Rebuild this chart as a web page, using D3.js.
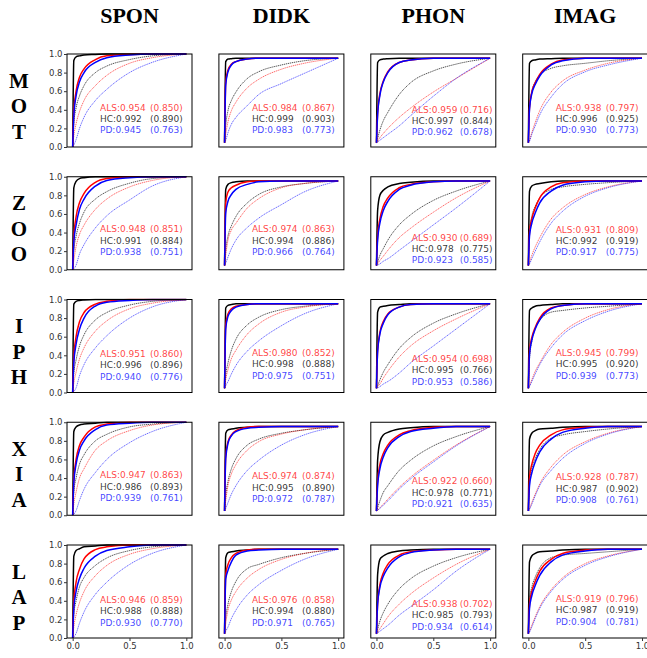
<!DOCTYPE html>
<html><head><meta charset="utf-8">
<script src="https://cdn.jsdelivr.net/npm/d3@7"></script>
<style>body{margin:0;background:#fff}</style></head>
<body>
<svg id="c" width="647" height="658"></svg>
<script>
const rowNames = ["MOT","ZOO","IPH","XIA","LAP"];
const colNames = ["SPON","DIDK","PHON","IMAG"];
const fpr = [0,0.01,0.03,0.06,0.1,0.2,0.3,0.5,0.7,1];
const yTicks = [0,0.2,0.4,0.6,0.8,1.0];
const xTicks = [0,0.5,1.0];

const aucALS = [[0.954,0.984,0.959,0.938],[0.948,0.974,0.930,0.931],[0.951,0.980,0.954,0.945],[0.947,0.974,0.922,0.928],[0.946,0.976,0.938,0.919]];
const aucHC  = [[0.992,0.999,0.997,0.996],[0.991,0.994,0.978,0.992],[0.996,0.998,0.995,0.995],[0.986,0.995,0.978,0.987],[0.988,0.994,0.985,0.987]];
const aucPD  = [[0.945,0.983,0.962,0.930],[0.938,0.966,0.923,0.917],[0.940,0.975,0.953,0.939],[0.939,0.972,0.921,0.908],[0.930,0.971,0.934,0.904]];
const altALS = [[0.850,0.867,0.716,0.797],[0.851,0.863,0.689,0.809],[0.860,0.852,0.698,0.799],[0.863,0.874,0.660,0.787],[0.859,0.858,0.702,0.796]];
const altHC  = [[0.890,0.903,0.844,0.925],[0.884,0.886,0.775,0.919],[0.896,0.888,0.766,0.920],[0.893,0.890,0.771,0.902],[0.888,0.880,0.793,0.919]];
const altPD  = [[0.763,0.773,0.678,0.773],[0.751,0.764,0.585,0.775],[0.776,0.751,0.586,0.773],[0.761,0.787,0.635,0.761],[0.770,0.765,0.614,0.781]];

// TPR at each fpr point; per panel: [HC, ALS, PD, HC dotted, ALS dotted, PD dotted]
const tprMOT = [
 [[0,0.93,0.97,0.98,0.99,0.995,1,1,1,1],[0,0.38,0.6,0.75,0.84,0.94,0.98,0.995,1,1],[0,0.33,0.55,0.7,0.8,0.91,0.96,0.99,1,1],
  [0,0.25,0.42,0.55,0.66,0.8,0.87,0.94,0.98,1],[0,0.12,0.25,0.38,0.5,0.66,0.77,0.9,0.96,1],[0,0.02,0.08,0.2,0.32,0.5,0.62,0.8,0.91,1]],
 [[0,0.96,0.99,0.995,1,1,1,1,1,1],[0,0.72,0.86,0.93,0.96,0.99,1,1,1,1],[0,0.68,0.84,0.92,0.96,0.99,1,1,1,1],
  [0,0.2,0.38,0.5,0.6,0.76,0.84,0.92,0.97,1],[0,0.1,0.25,0.38,0.48,0.65,0.75,0.87,0.94,1],[0,0.03,0.12,0.22,0.3,0.44,0.57,0.7,0.82,1]],
 [[0,0.95,0.98,0.99,0.995,1,1,1,1,1],[0,0.35,0.58,0.73,0.84,0.95,0.98,1,1,1],[0,0.33,0.56,0.72,0.83,0.95,0.98,1,1,1],
  [0,0.05,0.15,0.26,0.36,0.57,0.71,0.85,0.93,1],[0,0.02,0.06,0.11,0.17,0.3,0.41,0.6,0.76,1],[0,0.01,0.03,0.06,0.1,0.2,0.32,0.55,0.76,1]],
 [[0,0.94,0.97,0.98,0.99,0.995,1,1,1,1],[0,0.42,0.6,0.71,0.81,0.93,0.98,1,1,1],[0,0.4,0.58,0.69,0.79,0.92,0.97,1,1,1],
  [0,0.4,0.6,0.72,0.8,0.88,0.91,0.94,0.97,1],[0,0.03,0.12,0.24,0.38,0.6,0.73,0.86,0.94,1],[0,0.02,0.1,0.2,0.33,0.54,0.69,0.84,0.92,1]]
];
const tprZOO = [
 [[0,0.88,0.95,0.98,0.99,1,1,1,1,1],[0,0.35,0.57,0.72,0.82,0.94,0.98,1,1,1],[0,0.3,0.48,0.65,0.76,0.9,0.96,0.99,1,1],
  [0,0.2,0.36,0.5,0.62,0.76,0.84,0.93,0.98,1],[0,0.1,0.25,0.38,0.48,0.65,0.76,0.89,0.96,1],[0,0.01,0.05,0.17,0.27,0.45,0.58,0.75,0.9,1]],
 [[0,0.9,0.96,0.98,0.99,1,1,1,1,1],[0,0.74,0.87,0.92,0.95,0.99,1,1,1,1],[0,0.62,0.76,0.84,0.9,0.96,0.99,1,1,1],
  [0,0.18,0.35,0.47,0.58,0.74,0.84,0.93,0.97,1],[0,0.12,0.3,0.42,0.5,0.68,0.79,0.92,0.97,1],[0,0.03,0.1,0.2,0.3,0.45,0.56,0.72,0.87,1]],
 [[0,0.65,0.83,0.89,0.93,0.97,0.985,1,1,1],[0,0.35,0.55,0.7,0.8,0.92,0.96,0.99,1,1],[0,0.3,0.5,0.65,0.76,0.9,0.95,0.99,1,1],
  [0,0.04,0.12,0.2,0.3,0.48,0.6,0.77,0.88,1],[0,0.02,0.06,0.11,0.18,0.33,0.44,0.63,0.8,1],[0,0.005,0.02,0.05,0.08,0.18,0.28,0.48,0.68,1]],
 [[0,0.88,0.94,0.96,0.97,0.99,1,1,1,1],[0,0.4,0.55,0.68,0.8,0.93,0.98,1,1,1],[0,0.35,0.5,0.62,0.74,0.88,0.95,0.99,1,1],
  [0,0.4,0.58,0.7,0.8,0.9,0.93,0.96,0.98,1],[0,0.04,0.12,0.22,0.33,0.55,0.68,0.84,0.93,1],[0,0.02,0.08,0.17,0.28,0.5,0.64,0.82,0.92,1]]
];
const tprIPH = [
 [[0,0.95,0.98,0.99,0.995,1,1,1,1,1],[0,0.38,0.6,0.76,0.86,0.95,0.98,1,1,1],[0,0.32,0.52,0.68,0.8,0.93,0.97,0.99,1,1],
  [0,0.2,0.35,0.5,0.62,0.78,0.86,0.94,0.98,1],[0,0.1,0.22,0.36,0.48,0.66,0.77,0.9,0.96,1],[0,0.01,0.05,0.18,0.3,0.48,0.61,0.8,0.92,1]],
 [[0,0.95,0.98,0.99,1,1,1,1,1,1],[0,0.75,0.88,0.94,0.97,0.99,1,1,1,1],[0,0.7,0.85,0.92,0.96,0.99,1,1,1,1],
  [0,0.15,0.3,0.45,0.58,0.75,0.84,0.93,0.97,1],[0,0.1,0.22,0.35,0.45,0.64,0.76,0.9,0.96,1],[0,0.03,0.08,0.17,0.27,0.44,0.56,0.74,0.88,1]],
 [[0,0.9,0.96,0.97,0.98,0.99,1,1,1,1],[0,0.45,0.66,0.79,0.88,0.96,0.99,1,1,1],[0,0.43,0.64,0.77,0.87,0.96,0.99,1,1,1],
  [0,0.03,0.1,0.19,0.28,0.47,0.6,0.77,0.88,1],[0,0.02,0.05,0.12,0.2,0.37,0.5,0.68,0.82,1],[0,0.005,0.02,0.05,0.08,0.18,0.3,0.5,0.7,1]],
 [[0,0.92,0.95,0.97,0.98,0.99,1,1,1,1],[0,0.45,0.6,0.72,0.83,0.95,0.98,1,1,1],[0,0.4,0.57,0.7,0.81,0.94,0.98,1,1,1],
  [0,0.35,0.55,0.7,0.8,0.9,0.92,0.95,0.97,1],[0,0.03,0.1,0.2,0.3,0.52,0.66,0.83,0.93,1],[0,0.02,0.08,0.17,0.28,0.48,0.63,0.8,0.91,1]]
];
const tprXIA = [
 [[0,0.9,0.95,0.97,0.98,0.99,1,1,1,1],[0,0.38,0.6,0.75,0.84,0.95,0.98,1,1,1],[0,0.35,0.55,0.7,0.8,0.92,0.97,0.99,1,1],
  [0,0.25,0.4,0.55,0.65,0.8,0.87,0.95,0.98,1],[0,0.12,0.25,0.4,0.5,0.7,0.8,0.91,0.97,1],[0,0.01,0.05,0.16,0.28,0.46,0.6,0.78,0.9,1]],
 [[0,0.92,0.96,0.97,0.98,0.99,1,1,1,1],[0,0.65,0.82,0.9,0.95,0.99,1,1,1,1],[0,0.62,0.8,0.89,0.94,0.98,0.99,1,1,1],
  [0,0.18,0.35,0.5,0.62,0.78,0.85,0.92,0.96,1],[0,0.12,0.3,0.44,0.55,0.72,0.82,0.91,0.96,1],[0,0.03,0.1,0.2,0.3,0.48,0.6,0.78,0.9,1]],
 [[0,0.6,0.82,0.9,0.93,0.97,0.985,1,1,1],[0,0.35,0.55,0.68,0.78,0.9,0.95,0.99,1,1],[0,0.3,0.5,0.64,0.75,0.88,0.94,0.98,1,1],
  [0,0.04,0.12,0.22,0.3,0.48,0.6,0.77,0.88,1],[0,0.01,0.04,0.08,0.14,0.28,0.4,0.6,0.78,1],[0,0.01,0.03,0.07,0.12,0.26,0.38,0.58,0.77,1]],
 [[0,0.85,0.92,0.95,0.97,0.98,0.99,1,1,1],[0,0.4,0.55,0.68,0.78,0.9,0.96,0.99,1,1],[0,0.3,0.45,0.58,0.7,0.85,0.93,0.98,1,1],
  [0,0.35,0.5,0.62,0.73,0.86,0.9,0.94,0.97,1],[0,0.03,0.1,0.2,0.32,0.52,0.66,0.82,0.92,1],[0,0.02,0.08,0.18,0.3,0.48,0.62,0.8,0.91,1]]
];
const tprLAP = [
 [[0,0.88,0.94,0.96,0.98,0.99,1,1,1,1],[0,0.38,0.6,0.74,0.85,0.95,0.98,1,1,1],[0,0.32,0.5,0.64,0.75,0.88,0.94,0.98,1,1],
  [0,0.25,0.4,0.55,0.65,0.78,0.86,0.94,0.98,1],[0,0.12,0.25,0.38,0.5,0.67,0.78,0.9,0.96,1],[0,0.01,0.05,0.16,0.28,0.47,0.6,0.79,0.91,1]],
 [[0,0.9,0.96,0.97,0.98,0.99,1,1,1,1],[0,0.7,0.82,0.9,0.95,0.99,1,1,1,1],[0,0.65,0.75,0.85,0.93,0.98,0.99,1,1,1],
  [0,0.18,0.35,0.5,0.62,0.77,0.82,0.9,0.95,1],[0,0.12,0.28,0.4,0.5,0.66,0.76,0.88,0.95,1],[0,0.03,0.08,0.18,0.28,0.46,0.58,0.75,0.88,1]],
 [[0,0.7,0.88,0.92,0.95,0.98,0.99,1,1,1],[0,0.35,0.58,0.72,0.82,0.93,0.97,0.99,1,1],[0,0.35,0.55,0.68,0.78,0.91,0.96,0.99,1,1],
  [0,0.05,0.15,0.25,0.35,0.53,0.65,0.8,0.9,1],[0,0.02,0.06,0.12,0.2,0.35,0.47,0.66,0.82,1],[0,0.01,0.03,0.06,0.1,0.22,0.32,0.52,0.74,1]],
 [[0,0.85,0.92,0.95,0.97,0.98,0.99,1,1,1],[0,0.35,0.5,0.62,0.74,0.88,0.95,0.99,1,1],[0,0.3,0.45,0.57,0.69,0.85,0.93,0.98,1,1],
  [0,0.4,0.55,0.67,0.78,0.9,0.93,0.95,0.97,1],[0,0.03,0.1,0.2,0.32,0.52,0.66,0.83,0.92,1],[0,0.02,0.08,0.18,0.3,0.5,0.64,0.81,0.91,1]]
];
const tprRows = [tprMOT, tprZOO, tprIPH, tprXIA, tprLAP];

// layout
const colLeft = [67, 218.9, 370.8, 522.7], boxW = 125, boxH = 93;
const rowTop = [54, 176.75, 299.5, 422.25, 545];
const textBase = [[56.5,56.5,58.5,56.5],[55.5,55.5,64,56],[57.5,56.5,62.5,56.5],[56,57,62,58],[58,58,62,57]];

const svg = d3.select("#c");
const fmt3 = d3.format(".3f"), fmt1 = d3.format(".1f");
const serif = "'Liberation Serif','Times New Roman',serif";
const sans = "'DejaVu Sans',sans-serif";

// column headers
colNames.forEach((c, j) => {
  svg.append("text").attr("x", colLeft[j] + boxW/2).attr("y", 23)
    .attr("text-anchor","middle").attr("font-family", serif).attr("font-weight","bold")
    .attr("font-size", 22).attr("fill","#000").text(c);
});
// row labels
rowNames.forEach((r, i) => {
  const mid = rowTop[i] + boxH/2 + 5.5;
  r.split("").forEach((ch, k) => {
    svg.append("text").attr("x", 19).attr("y", mid + (k-1)*25.5 + 7)
      .attr("text-anchor","middle").attr("font-family", serif).attr("font-weight","bold")
      .attr("font-size", 21).attr("fill","#000").text(ch);
  });
});

const styles = [
  {c:"#000", w:1.5, dash:null, o:1},
  {c:"#ff0000", w:1.5, dash:null, o:1},
  {c:"#0000ff", w:1.5, dash:null, o:1},
  {c:"#000", w:0.9, dash:"1.3,0.7", o:0.75},
  {c:"#ff0000", w:0.9, dash:"1.3,0.7", o:0.65},
  {c:"#0000ff", w:0.9, dash:"1.3,0.7", o:0.65}
];
const drawOrder = [3,4,5,0,1,2];

rowNames.forEach((r, i) => {
  colNames.forEach((c, j) => {
    const left = colLeft[j], top = rowTop[i];
    const x = d3.scaleLinear().domain([-0.05, 1.05]).range([left, left + boxW]);
    const y = j === 0 ? d3.scaleLinear().domain([0,1]).range([top + boxH, top])
                      : d3.scaleLinear().domain([-0.05,1.05]).range([top + boxH, top]);
    const g = svg.append("g");
    const cid = "clip" + i + "_" + j;
    g.append("clipPath").attr("id", cid).append("rect")
      .attr("x", left).attr("y", top - 1).attr("width", boxW).attr("height", boxH + 1);
    const line = d3.line().x((d,k) => x(fpr[k])).y(d => y(d)).curve(d3.curveMonotoneX);
    const curves = tprRows[i][j];
    const cg = g.append("g").attr("clip-path", `url(#${cid})`);
    drawOrder.forEach(k => {
      const s = styles[k];
      cg.append("path").attr("d", line(curves[k])).attr("fill","none")
        .attr("stroke", s.c).attr("stroke-width", s.w).attr("stroke-opacity", s.o)
        .attr("stroke-dasharray", s.dash).attr("stroke-linejoin","round");
    });
    // frame
    g.append("rect").attr("x", left).attr("y", top).attr("width", boxW).attr("height", boxH)
      .attr("fill","none").attr("stroke","#000").attr("stroke-width",1);
    // axes
    if (j === 0) {
      const ay = g.append("g").attr("transform", `translate(${left},0)`)
        .call(d3.axisLeft(y).tickValues(yTicks).tickFormat(fmt1).tickSize(3).tickPadding(1.5));
      ay.select(".domain").remove();
      ay.selectAll("text").attr("font-family", sans).attr("font-size", 8.5).attr("fill","#333");
      ay.selectAll("line").attr("stroke","#333");
    }
    if (i === rowNames.length - 1) {
      const ax = g.append("g").attr("transform", `translate(0,${top + boxH})`)
        .call(d3.axisBottom(x).tickValues(xTicks).tickFormat(fmt1).tickSize(3).tickPadding(1.5));
      ax.select(".domain").remove();
      ax.selectAll("text").attr("font-family", sans).attr("font-size", 8.5).attr("fill","#333");
      ax.selectAll("line").attr("stroke","#333");
    }
    // annotations
    const isPhon = c === "PHON";
    const lx = left + (isPhon ? 41 : 33), px = left + (isPhon ? 89 : 83);
    const b = top + textBase[i][j];
    const rowsTxt = [
      {lab:"ALS:" + fmt3(aucALS[i][j]), alt:"(" + fmt3(altALS[i][j]) + ")", col:"rgba(255,0,0,0.75)"},
      {lab:"HC:" + fmt3(aucHC[i][j]), alt:"(" + fmt3(altHC[i][j]) + ")", col:"rgba(0,0,0,0.8)"},
      {lab:"PD:" + fmt3(aucPD[i][j]), alt:"(" + fmt3(altPD[i][j]) + ")", col:"rgba(0,0,255,0.75)"}
    ];
    rowsTxt.forEach((t, k) => {
      g.append("text").attr("x", lx).attr("y", b + k*11.3).attr("font-family", sans)
        .attr("font-size", 9).attr("fill", t.col).text(t.lab);
      g.append("text").attr("x", px).attr("y", b + k*11.3).attr("font-family", sans)
        .attr("font-size", 9).attr("fill", t.col).text(t.alt);
    });
  });
});
</script>
</body></html>
